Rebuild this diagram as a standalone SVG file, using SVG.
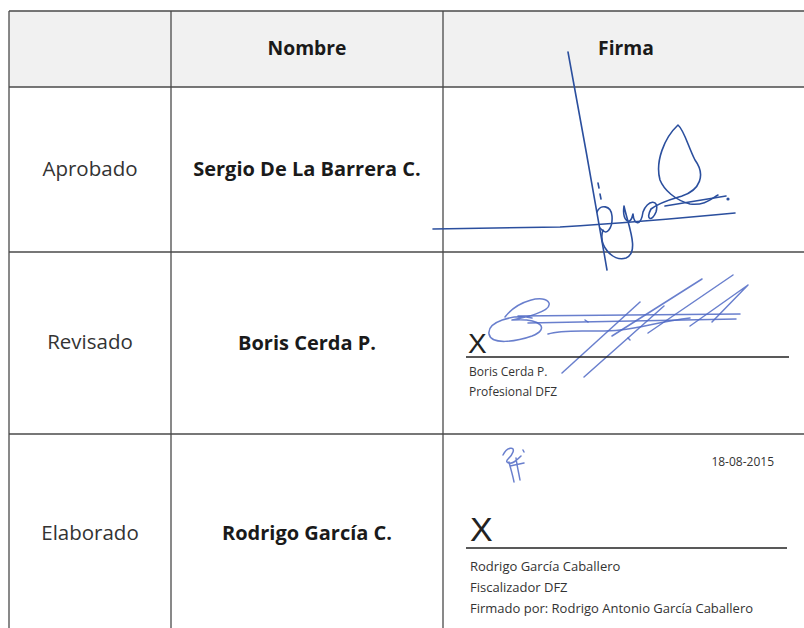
<svg xmlns="http://www.w3.org/2000/svg" width="804" height="628" viewBox="0 0 804 628">
<defs>
<style>
.grid{stroke:#4a4a4a;stroke-width:1.3;fill:none}
.lbl{font-family:"Open Sans","DejaVu Sans",sans-serif;font-size:20.5px;fill:#333;text-anchor:middle}
.nm{font-family:"Open Sans","DejaVu Sans",sans-serif;font-size:20px;font-weight:bold;fill:#1a1a1a;text-anchor:middle}
.hd{font-size:19.3px}
.sm{font-family:"Open Sans","DejaVu Sans",sans-serif;font-size:12px;fill:#333}
.sm3{font-size:13px}
.x{font-family:"Liberation Sans",Arial,sans-serif;fill:#222}
.sig{fill:none;stroke:#2b4f9e;stroke-width:1.6;stroke-linecap:round;stroke-linejoin:round}
.sig2{fill:none;stroke:#4f68c4;stroke-width:1.5;stroke-linecap:round;stroke-linejoin:round;opacity:0.85}
.uline{stroke:#222;stroke-width:1.5}
</style>
</defs>
<rect width="804" height="628" fill="#ffffff"/>
<rect x="9" y="11" width="795" height="76" fill="#f1f1f1"/>
<g id="connectors">
<line class="grid" x1="9" y1="11" x2="804" y2="11"/>
<line class="grid" x1="9" y1="87" x2="804" y2="87"/>
<line class="grid" x1="9" y1="252" x2="804" y2="252"/>
<line class="grid" x1="9" y1="434" x2="804" y2="434"/>
<line class="grid" x1="9" y1="11" x2="9" y2="628"/>
<line class="grid" x1="171" y1="11" x2="171" y2="628"/>
<line class="grid" x1="443" y1="11" x2="443" y2="628"/>
</g>
<g id="header">
<text class="nm hd" x="307" y="55">Nombre</text>
<text class="nm hd" x="626" y="55">Firma</text>
</g>
<g id="row-aprobado">
<text class="lbl" x="90" y="176">Aprobado</text>
<text class="nm" x="307" y="176">Sergio De La Barrera C.</text>
</g>
<g id="row-revisado">
<text class="lbl" x="90" y="349">Revisado</text>
<text class="nm" x="307" y="350">Boris Cerda P.</text>
</g>
<g id="row-elaborado">
<text class="lbl" x="90" y="540">Elaborado</text>
<text class="nm" x="307" y="540">Rodrigo García C.</text>
</g>
<g id="firma-aprobado">
<path class="sig" d="M568,52 Q588,160 607,270"/>
<path class="sig" d="M433,229 L560,227 Q640,222 735,213"/>
<path class="sig" d="M665,206 L726,196"/>
<circle cx="728" cy="199" r="1.6" fill="#2b4f9e"/>
<path class="sig" d="M598,183 L599,188 M600,194 L601,199"/>
<path class="sig" d="M597,212 C600,204 611,205 612,216 C613,228 606,236 603,230 C598,245 612,262 626,258 C640,252 628,225 624,206 C622,220 630,228 633,214 C634,226 641,226 643,212 C647,200 660,198 656,212 C652,222 645,220 651,209 C660,202 672,199 682,196 C700,190 706,175 695,160 C688,146 684,130 678,125 C664,138 655,162 660,180 C664,190 675,200 690,204 C705,206 712,198 718,195"/>
<path class="sig" d="M600,228 L603,231"/>
</g>
<g id="firma-revisado">
<path class="sig2" d="M505,317 C518,300 545,294 549,303 C552,312 522,318 512,320 C542,318 550,329 532,336 C515,342 491,345 489,334 C487,322 512,314 532,318"/>
<path class="sig2" d="M518,316 L740,314"/>
<path class="sig2" d="M528,323 L736,319"/>
<path class="sig2" d="M548,334 C566,328 598,333 620,330 C645,327 662,321 690,318"/>
<path class="sig2" d="M612,336 L702,279"/>
<path class="sig2" d="M648,333 L733,275"/>
<path class="sig2" d="M690,326 L748,285 L712,322"/>
<path class="sig2" d="M562,373 L640,302"/>
<path class="sig2" d="M584,377 L664,306"/>
<path class="sig2" d="M585,320 L588,322 M628,338 L630,340"/>
<text class="x" x="468" y="353" font-size="28">X</text>
<line class="uline" x1="466" y1="357" x2="789" y2="357"/>
<text class="sm" x="469" y="376">Boris Cerda P.</text>
<text class="sm" x="469" y="396">Profesional DFZ</text>
</g>
<g id="firma-elaborado">
<text class="sm" x="774" y="466" text-anchor="end" font-size="12.5">18-08-2015</text>
<text class="x" x="470" y="541" font-size="34">X</text>
<path class="sig2" d="M503,455 C507,447 515,446 513,452 C511,458 505,460 507,462 C511,466 517,460 521,456 M509,462 C511,470 513,476 514,482 M516,458 C517,466 519,474 520,480 M510,466 L524,463 M523,450 L524,452"/>
<line class="uline" x1="466" y1="548" x2="787" y2="548"/>
<text class="sm sm3" x="470" y="571">Rodrigo García Caballero</text>
<text class="sm sm3" x="470" y="592">Fiscalizador DFZ</text>
<text class="sm sm3" x="470" y="613">Firmado por: Rodrigo Antonio García Caballero</text>
</g>
</svg>
